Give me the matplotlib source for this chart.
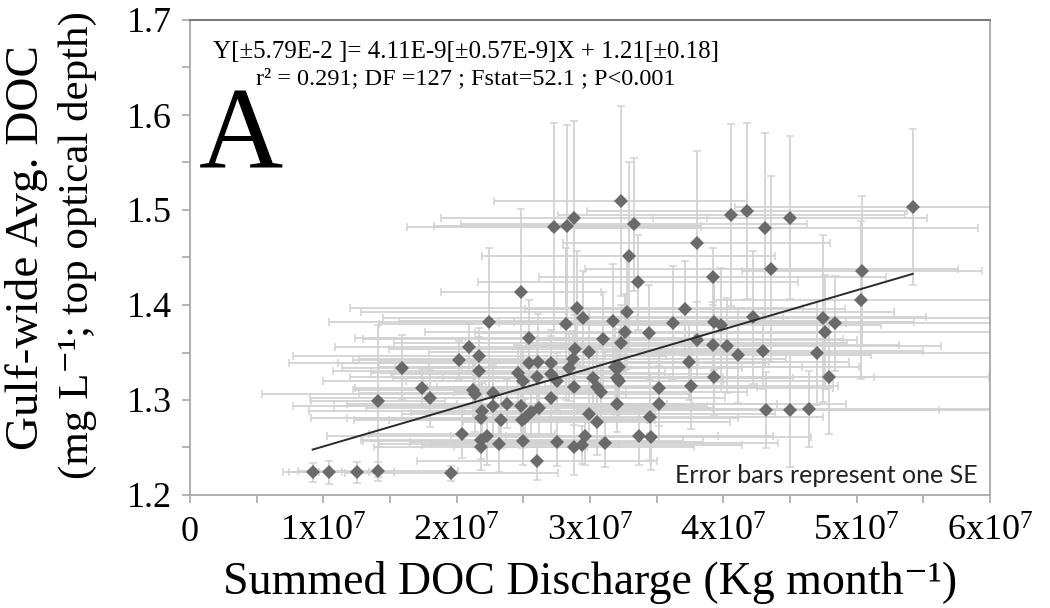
import numpy as np
import matplotlib
matplotlib.use("Agg")
import matplotlib.pyplot as plt
from matplotlib.ticker import MultipleLocator, FixedLocator, FixedFormatter

plt.rcParams['font.family'] = ['Liberation Serif', 'DejaVu Serif']
plt.rcParams['mathtext.fontset'] = 'custom'
plt.rcParams['mathtext.rm'] = 'Liberation Serif'
plt.rcParams['mathtext.it'] = 'Liberation Serif:italic'

# summed DOC discharge (units of 1e7 kg/month), gulf-wide avg DOC (mg/L) and their SEs
discharge = [0.92, 1.04, 1.25, 1.41, 1.96, 1.41, 1.59, 1.74, 1.80, 2.02,
             2.09, 2.17, 2.17, 2.12, 2.14, 2.04, 2.18, 2.23, 2.18, 2.19,
             2.18, 2.27, 2.32, 2.33, 2.38, 2.48, 2.49, 2.51, 2.56, 2.62,
             2.50, 2.60, 2.24, 2.46, 2.50, 2.54, 2.54, 2.61, 2.60, 2.71,
             2.71, 2.75, 2.71, 2.75, 2.88, 2.94, 2.96, 3.11, 2.82, 2.90,
             2.95, 2.89, 2.99, 2.87, 2.84, 2.88, 3.02, 3.05, 2.99, 3.05,
             3.10, 3.17, 3.26, 3.28, 3.23, 3.19, 3.22, 3.20, 3.22, 3.20,
             3.08, 2.27, 3.23, 3.33, 3.29, 3.36, 3.80, 4.06, 4.18, 4.50,
             4.31, 4.36, 3.92, 5.42, 5.04, 5.03, 3.71, 3.62, 3.93, 3.98,
             4.22, 4.75, 4.84, 4.76, 3.44, 3.80, 3.92, 4.03, 4.11, 4.30,
             4.70, 3.74, 3.52, 3.76, 3.93, 4.79, 3.52, 3.45, 3.37, 3.46,
             4.32, 4.50, 4.64, 2.88, 2.83, 2.73, 2.48]
doc = [1.224, 1.224, 1.224, 1.225, 1.223, 1.299, 1.334, 1.313, 1.302, 1.342,
       1.356, 1.346, 1.331, 1.311, 1.306, 1.264, 1.258, 1.262, 1.251, 1.288,
       1.281, 1.294, 1.254, 1.279, 1.296, 1.294, 1.279, 1.281, 1.287, 1.292,
       1.257, 1.236, 1.382, 1.328, 1.320, 1.365, 1.339, 1.340, 1.324, 1.339,
       1.327, 1.320, 1.302, 1.256, 1.251, 1.253, 1.262, 1.255, 1.380, 1.397,
       1.386, 1.354, 1.351, 1.343, 1.334, 1.314, 1.323, 1.314, 1.285, 1.277,
       1.364, 1.383, 1.372, 1.393, 1.360, 1.335, 1.335, 1.323, 1.320, 1.296,
       1.308, 1.307, 1.509, 1.485, 1.452, 1.424, 1.465, 1.495, 1.499, 1.492,
       1.481, 1.438, 1.430, 1.503, 1.436, 1.405, 1.396, 1.381, 1.382, 1.379,
       1.387, 1.386, 1.381, 1.372, 1.371, 1.363, 1.358, 1.357, 1.347, 1.352,
       1.350, 1.340, 1.313, 1.315, 1.324, 1.324, 1.296, 1.282, 1.262, 1.261,
       1.289, 1.289, 1.291, 1.492, 1.483, 1.482, 1.414]
discharge_se = [0.22, 0.30, 0.28, 0.60, 0.80, 0.50, 0.45, 0.50, 0.90, 0.80,
                1.00, 1.40, 1.10, 0.90, 1.60, 0.70, 0.90, 1.20, 0.80, 1.30,
                1.00, 1.50, 0.90, 1.10, 1.20, 1.40, 1.00, 1.60, 0.90, 1.30,
                1.20, 0.90, 1.20, 1.10, 1.50, 1.30, 1.80, 1.20, 1.40, 1.60,
                1.20, 1.00, 1.30, 1.10, 0.90, 1.20, 1.00, 1.30, 1.40, 1.70,
                1.50, 1.40, 1.20, 1.60, 1.30, 1.10, 1.50, 1.20, 1.40, 1.00,
                1.80, 1.60, 1.50, 2.00, 1.70, 1.40, 1.80, 1.30, 1.60, 1.20,
                1.10, 1.00, 0.95, 1.30, 1.10, 1.20, 1.00, 1.30, 1.20, 1.03,
                1.60, 1.40, 1.30, 1.33, 0.90, 1.10, 1.20, 1.30, 1.50, 1.20,
                1.30, 1.40, 1.20, 1.50, 1.30, 1.20, 1.40, 1.60, 1.00, 1.20,
                1.30, 1.20, 1.30, 1.10, 1.20, 1.20, 1.40, 1.30, 1.00, 1.20,
                1.30, 1.60, 1.40, 1.00, 1.00, 1.10, 0.60]
doc_se = [0.010, 0.012, 0.011, 0.010, 0.008, 0.080, 0.034, 0.020, 0.030, 0.020,
          0.025, 0.030, 0.035, 0.030, 0.040, 0.025, 0.020, 0.030, 0.025, 0.030,
          0.025, 0.030, 0.030, 0.030, 0.025, 0.030, 0.030, 0.020, 0.025, 0.030,
          0.025, 0.020, 0.078, 0.030, 0.035, 0.040, 0.030, 0.050, 0.040, 0.035,
          0.040, 0.030, 0.040, 0.025, 0.030, 0.020, 0.030, 0.025, 0.080, 0.060,
          0.050, 0.040, 0.045, 0.030, 0.035, 0.040, 0.030, 0.040, 0.030, 0.035,
          0.050, 0.060, 0.040, 0.060, 0.040, 0.050, 0.040, 0.035, 0.040, 0.030,
          0.030, 0.030, 0.100, 0.070, 0.099, 0.050, 0.097, 0.096, 0.093, 0.086,
          0.100, 0.098, 0.030, 0.082, 0.079, 0.083, 0.050, 0.060, 0.050, 0.060,
          0.070, 0.088, 0.050, 0.060, 0.050, 0.040, 0.045, 0.050, 0.050, 0.040,
          0.055, 0.040, 0.040, 0.045, 0.040, 0.060, 0.040, 0.045, 0.030, 0.035,
          0.040, 0.060, 0.040, 0.102, 0.106, 0.110, 0.087]

slope, intercept = 4.11e-9, 1.21
x_tick_labels = ['0', '1x10$^{7}$', '2x10$^{7}$', '3x10$^{7}$',
                 '4x10$^{7}$', '5x10$^{7}$', '6x10$^{7}$']

x = np.array(discharge) * 1e7
y = np.array(doc)
xerr = np.array(discharge_se) * 1e7
yerr = np.array(doc_se)

fig = plt.figure(figsize=(10.5, 6.08), dpi=100)
ax = fig.add_axes([190 / 1050, 113 / 608, 800 / 1050, 475 / 608])

ax.errorbar(x, y, xerr=xerr, yerr=yerr, fmt='none', ecolor='#d2d2d2',
            elinewidth=1.3, capsize=3, capthick=1.1, zorder=1)
ax.plot(x, y, 'D', color='#6a6a6a', markersize=6.8, markeredgewidth=0, zorder=3)

xfit = np.array([x.min(), x.max()])
ax.plot(xfit, slope * xfit + intercept, color='#2b2b2b', lw=1.4, zorder=4)

ax.set_xlim(0, 6e7)
ax.set_ylim(1.2, 1.7)
ax.xaxis.set_major_locator(FixedLocator(np.arange(0, 7) * 1e7))
ax.xaxis.set_major_formatter(FixedFormatter(x_tick_labels))
ax.xaxis.set_minor_locator(MultipleLocator(0.5e7))
ax.yaxis.set_major_locator(MultipleLocator(0.1))
ax.yaxis.set_minor_locator(MultipleLocator(0.05))
ax.yaxis.set_major_formatter(matplotlib.ticker.FormatStrFormatter('%.1f'))

for side in ['left', 'bottom', 'right']:
    ax.spines[side].set_color('#a8a8a8')
    ax.spines[side].set_linewidth(1.3)
ax.spines['top'].set_color('#7a7a7a')
ax.spines['top'].set_linewidth(1.5)
ax.tick_params(axis='both', which='both', direction='out', color='#a8a8a8',
               width=1.2, length=6, labelsize=26)
ax.tick_params(axis='x', which='both', pad=9)
ax.tick_params(axis='y', which='both', pad=7)

ax.set_xlabel('Summed DOC Discharge (Kg month⁻¹)', fontsize=33, labelpad=9)
fig.text(27 / 1050, 1 - 248 / 608, 'Gulf-wide Avg. DOC', rotation=90,
         fontsize=34, ha='center', va='center')
fig.text(77 / 1050, 1 - 245 / 608, '(mg L⁻¹; top optical depth)',
         rotation=90, fontsize=31, ha='center', va='center')

ax.text(466 / 1050, 1 - 52 / 608, 'Y[±5.79E-2 ]= 4.11E-9[±0.57E-9]X + 1.21[±0.18]',
        transform=fig.transFigure, ha='center', va='center', fontsize=18)
ax.text(466 / 1050, 1 - 79 / 608, 'r² = 0.291; DF =127 ; Fstat=52.1 ; P<0.001',
        transform=fig.transFigure, ha='center', va='center', fontsize=17.5)
ax.text(199 / 1050, 1 - 168 / 608, 'A', transform=fig.transFigure,
        ha='left', va='baseline', fontsize=84)
ax.text(978 / 1050, 1 - 483 / 608, 'Error bars represent one SE',
        transform=fig.transFigure, ha='right', va='baseline', fontsize=18,
        family=['Lato', 'DejaVu Sans'], color='#222222')

fig.savefig('out.png', dpi=100)
